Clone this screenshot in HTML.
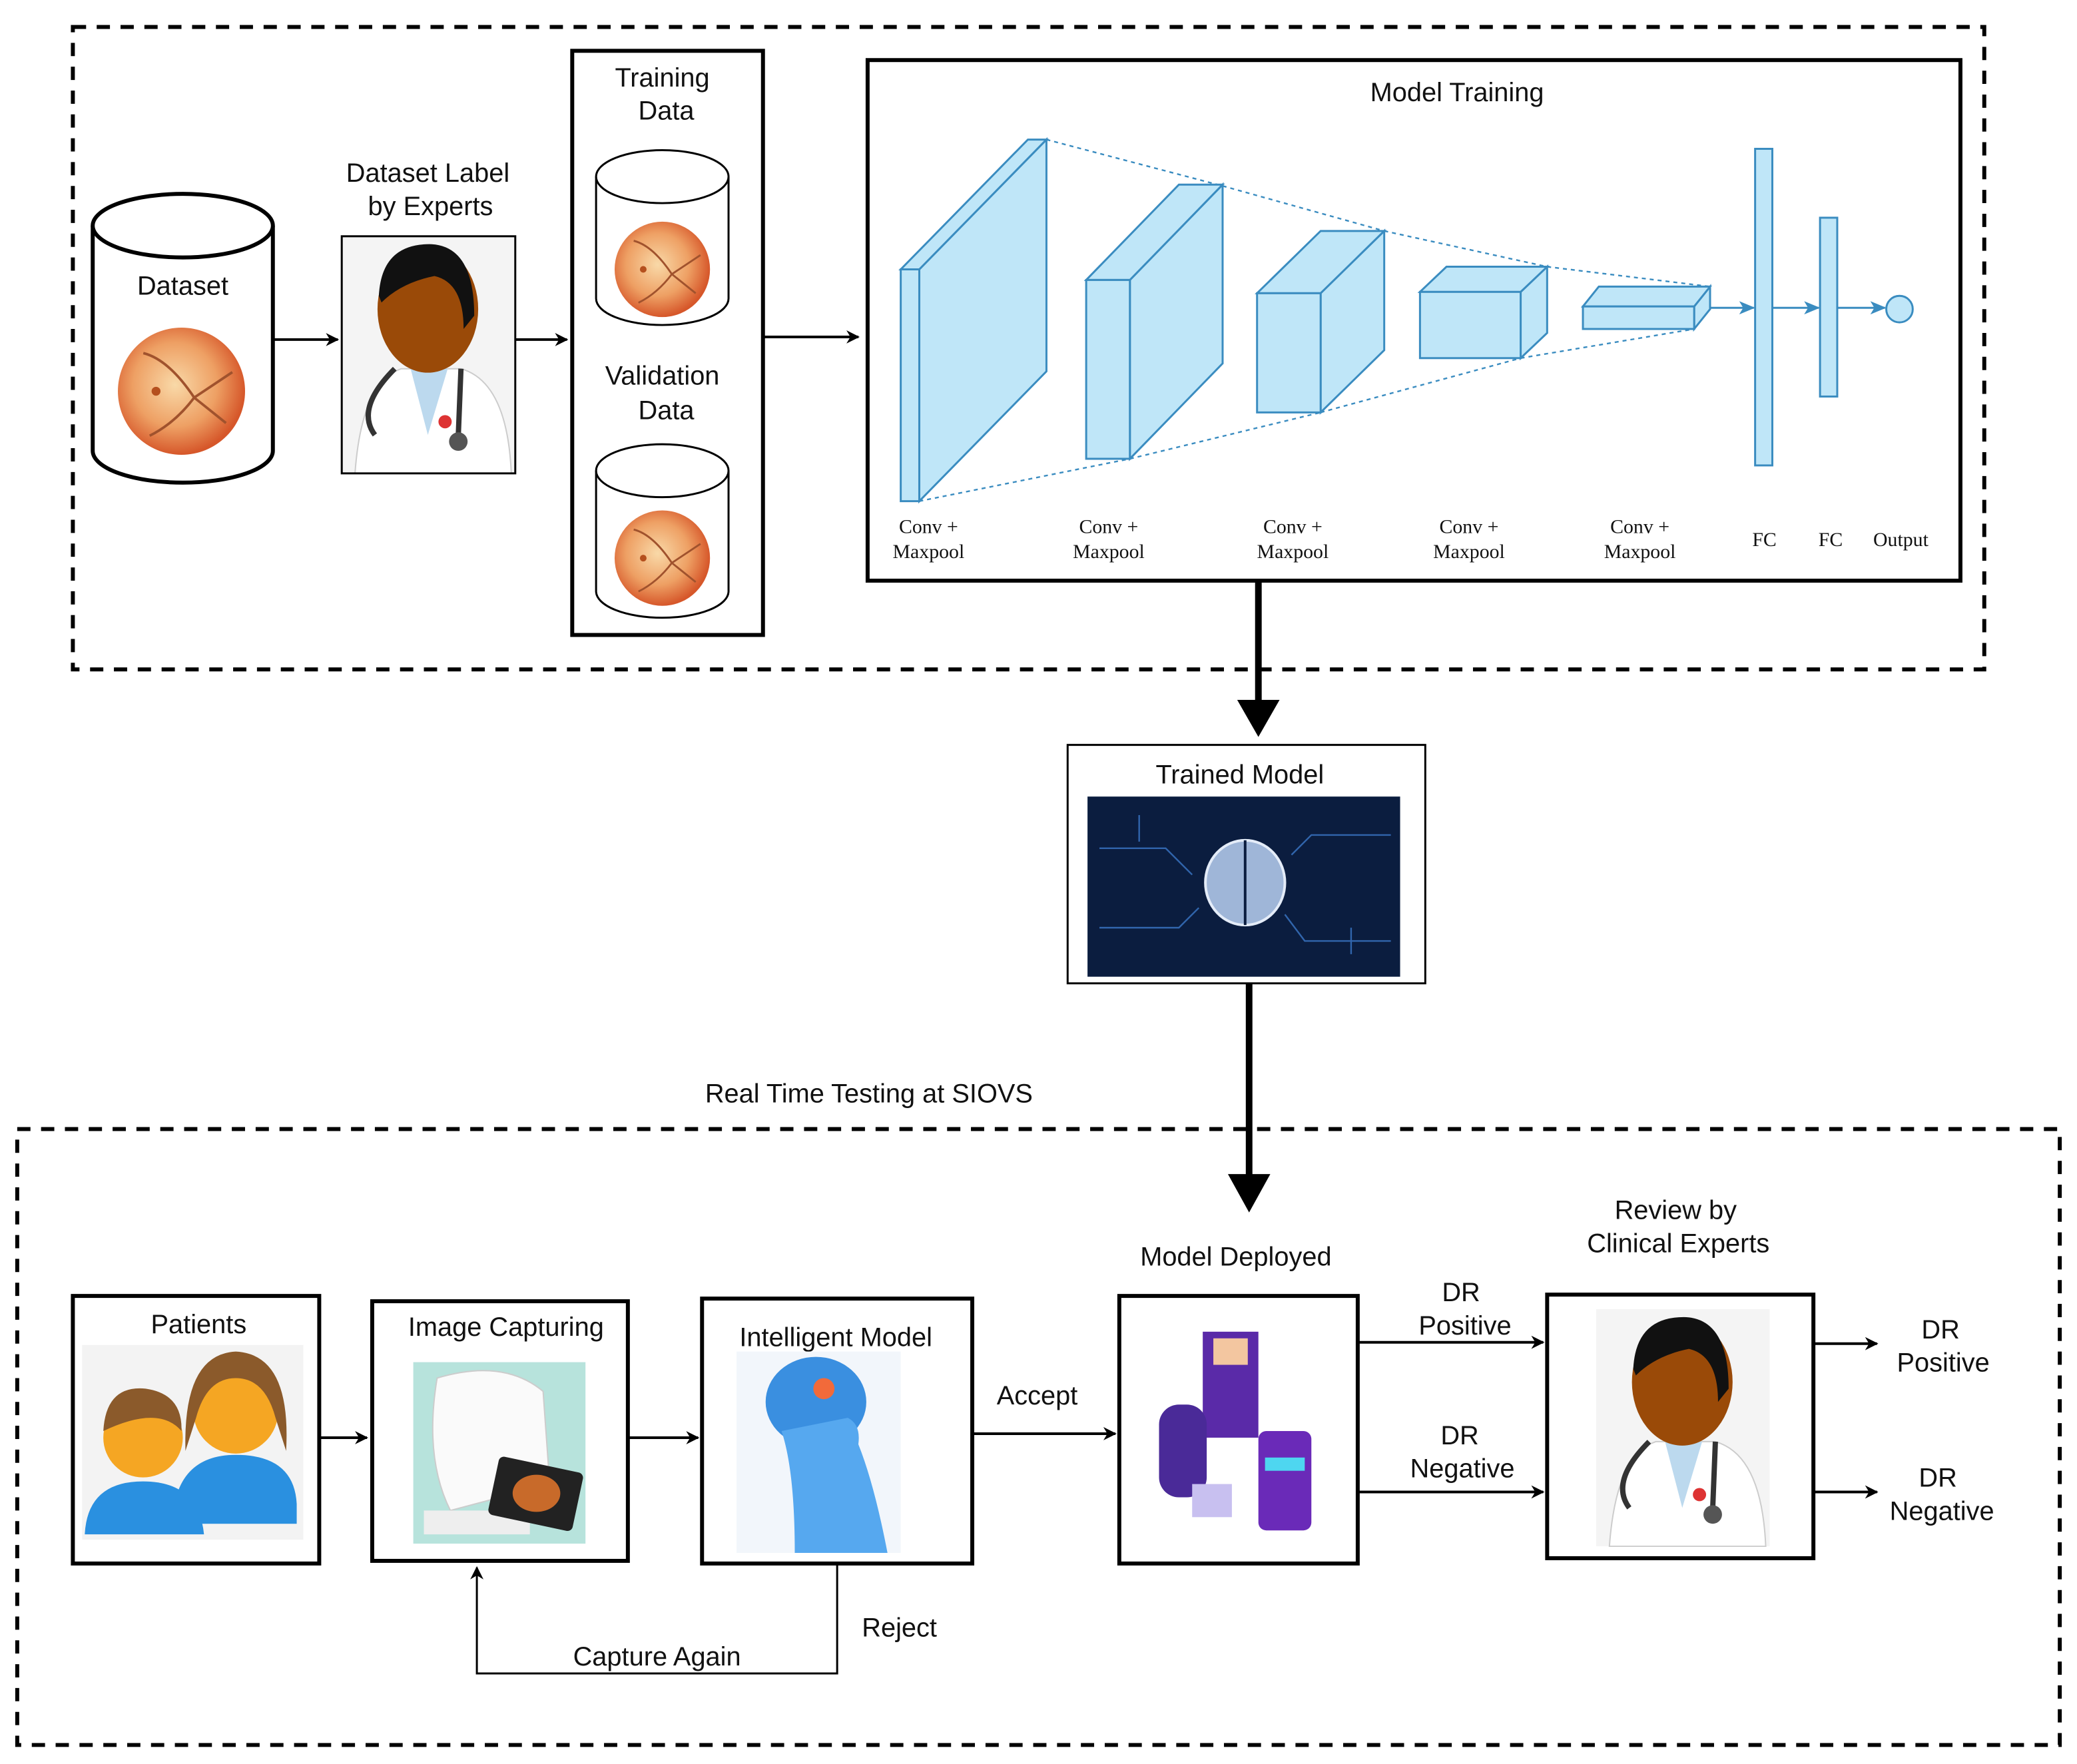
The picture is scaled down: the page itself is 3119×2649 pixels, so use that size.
<!DOCTYPE html>
<html><head><meta charset="utf-8"><style>
html,body{margin:0;padding:0;background:#fff;}
svg{display:block}
text{font-family:"Liberation Sans",sans-serif;font-size:20px;fill:#111;text-anchor:middle}
.s{font-family:"Liberation Serif",serif;font-size:15px}
</style></head><body>
<svg width="3119" height="2649" viewBox="0 0 1568 1331" xmlns="http://www.w3.org/2000/svg">
<defs>
<radialGradient id="ret" cx="0.45" cy="0.45" r="0.55">
<stop offset="0" stop-color="#f9d9a8"/><stop offset="0.6" stop-color="#eea064"/><stop offset="1" stop-color="#d6572a"/></radialGradient>
<marker id="a" markerWidth="10" markerHeight="10" refX="9" refY="5" orient="auto" markerUnits="userSpaceOnUse"><path d="M0,0 L10,5 L0,10 L3,5z" fill="#000"/></marker>
<marker id="ab" markerWidth="12" markerHeight="10" refX="11" refY="5" orient="auto" markerUnits="userSpaceOnUse"><path d="M0,0 L12,5 L0,10 L3,5z" fill="#3a8cc0"/></marker>
<marker id="big" markerWidth="32" markerHeight="32" refX="16" refY="30" orient="auto" markerUnits="userSpaceOnUse"><path d="M0,0 L16,32 L32,0 L16,8z" fill="#000" transform="rotate(-90 16 16)"/></marker>
<g id="retina"><circle r="1" fill="url(#ret)"/><circle cx="-0.4" cy="0" r="0.07" fill="#b5501e"/><path d="M0.2,0.1 Q-0.2,-0.5 -0.6,-0.6 M0.2,0.1 Q-0.1,0.5 -0.5,0.7 M0.2,0.1 L0.8,-0.3 M0.2,0.1 L0.7,0.5" stroke="#a0522d" stroke-width="0.04" fill="none"/></g>
<g id="doc"><rect x="0" y="0" width="131" height="179" fill="#f4f4f4"/>
<path d="M10,179 Q15,110 45,100 L90,100 Q125,110 128,179z" fill="#fff" stroke="#ccc"/>
<path d="M52,100 L65,150 L80,100z" fill="#bcd9ee"/>
<ellipse cx="65" cy="55" rx="38" ry="48" fill="#9a4a08"/>
<path d="M28,45 Q30,5 68,6 Q100,8 100,60 L92,70 Q92,35 70,30 Q45,35 30,50z" fill="#111"/>
<path d="M40,100 Q10,130 25,150 M90,100 L88,150" stroke="#333" stroke-width="4" fill="none"/><circle cx="88" cy="155" r="7" fill="#555"/><circle cx="78" cy="140" r="5" fill="#d33"/></g>
</defs>
<!-- dashed containers -->
<rect x="55" y="20" width="1443" height="485" fill="none" stroke="#000" stroke-width="3" stroke-dasharray="10,8"/>
<rect x="13" y="852" width="1542" height="465" fill="none" stroke="#000" stroke-width="3" stroke-dasharray="10,8"/>
<!-- dataset cylinder -->
<path d="M70,170 L70,340 A68,24 0 0 0 206,340 L206,170" fill="#fff" stroke="#000" stroke-width="3"/>
<ellipse cx="138" cy="170" rx="68" ry="24" fill="#fff" stroke="#000" stroke-width="3"/>
<text x="138" y="222">Dataset</text>
<use href="#retina" transform="translate(137,295) scale(48)"/>
<line x1="206" y1="256" x2="255" y2="256" stroke="#000" stroke-width="2" marker-end="url(#a)"/>
<text x="323" y="137">Dataset Label</text><text x="325" y="162">by Experts</text>
<use href="#doc" transform="translate(258,178)"/>
<rect x="258" y="178" width="131" height="179" fill="none" stroke="#000" stroke-width="1.5"/>
<line x1="389" y1="256" x2="428" y2="256" stroke="#000" stroke-width="2" marker-end="url(#a)"/>
<!-- training box -->
<rect x="432" y="38" width="144" height="441" fill="#fff" stroke="#000" stroke-width="3"/>
<text x="500" y="65">Training</text><text x="503" y="90">Data</text>
<path d="M450,133 L450,225 A50,20 0 0 0 550,225 L550,133" fill="#fff" stroke="#000" stroke-width="1.5"/>
<ellipse cx="500" cy="133" rx="50" ry="20" fill="#fff" stroke="#000" stroke-width="1.5"/>
<use href="#retina" transform="translate(500,203) scale(36)"/>
<text x="500" y="290">Validation</text><text x="503" y="316">Data</text>
<path d="M450,355 L450,446 A50,20 0 0 0 550,446 L550,355" fill="#fff" stroke="#000" stroke-width="1.5"/>
<ellipse cx="500" cy="355" rx="50" ry="20" fill="#fff" stroke="#000" stroke-width="1.5"/>
<use href="#retina" transform="translate(500,421) scale(36)"/>
<line x1="576" y1="254" x2="648" y2="254" stroke="#000" stroke-width="2" marker-end="url(#a)"/>
<!-- model training -->
<rect x="655" y="45" width="825" height="393" fill="#fff" stroke="#000" stroke-width="3"/>
<text x="1100" y="76">Model Training</text>
<g stroke="#3a8cc0" stroke-width="1.2" stroke-dasharray="3,3" fill="none">
<line x1="790" y1="105" x2="923" y2="140"/><line x1="694" y1="378" x2="853" y2="346"/>
<line x1="923" y1="140" x2="1045" y2="174"/><line x1="853" y1="346" x2="997" y2="311"/>
<line x1="1045" y1="174" x2="1168" y2="201"/><line x1="997" y1="311" x2="1148" y2="270"/>
<line x1="1168" y1="201" x2="1291" y2="216"/><line x1="1148" y1="270" x2="1279" y2="248"/>
</g>
<g fill="#bfe6f8" stroke="#3a8cc0" stroke-width="1.5">
<polygon points="694,203 790,105 790,280 694,378"/><polygon points="680,203 776,105 790,105 694,203"/><rect x="680" y="203" width="14" height="175"/>
<polygon points="853,211 923,139 923,274 853,346"/><polygon points="820,211 890,139 923,139 853,211"/><rect x="820" y="211" width="33" height="135"/>
<polygon points="997,221 1045,174 1045,264 997,311"/><polygon points="949,221 997,174 1045,174 997,221"/><rect x="949" y="221" width="48" height="90"/>
<polygon points="1148,220 1168,201 1168,251 1148,270"/><polygon points="1072,220 1092,201 1168,201 1148,220"/><rect x="1072" y="220" width="76" height="50"/>
<polygon points="1279,231 1291,216 1291,233 1279,248"/><polygon points="1195,231 1207,216 1291,216 1279,231"/><rect x="1195" y="231" width="84" height="17"/>
<rect x="1325" y="112" width="13" height="239"/><rect x="1374" y="164" width="13" height="135"/>
<circle cx="1434" cy="233" r="10"/>
</g>
<g stroke="#3a8cc0" stroke-width="1.5">
<line x1="1291" y1="232" x2="1324" y2="232" marker-end="url(#ab)"/><line x1="1338" y1="232" x2="1373" y2="232" marker-end="url(#ab)"/><line x1="1387" y1="232" x2="1423" y2="232" marker-end="url(#ab)"/></g>
<g class="s">
<text class="s" x="701" y="402">Conv +</text><text class="s" x="701" y="421">Maxpool</text>
<text class="s" x="837" y="402">Conv +</text><text class="s" x="837" y="421">Maxpool</text>
<text class="s" x="976" y="402">Conv +</text><text class="s" x="976" y="421">Maxpool</text>
<text class="s" x="1109" y="402">Conv +</text><text class="s" x="1109" y="421">Maxpool</text>
<text class="s" x="1238" y="402">Conv +</text><text class="s" x="1238" y="421">Maxpool</text>
<text class="s" x="1332" y="412">FC</text><text class="s" x="1382" y="412">FC</text><text class="s" x="1435" y="412">Output</text></g>
<!-- trained model -->
<line x1="950" y1="438" x2="950" y2="530" stroke="#000" stroke-width="5"/>
<polygon points="934,528 966,528 950,556" fill="#000"/>
<rect x="806" y="562" width="270" height="180" fill="#fff" stroke="#000" stroke-width="1.5"/>
<text x="936" y="591">Trained Model</text>
<rect x="821" y="601" width="236" height="136" fill="#0b1d3f"/>
<g stroke="#3b78c8" stroke-width="1.2" fill="none" opacity="0.8"><path d="M830,640 H880 L900,660 M830,700 H890 L905,685 M1050,630 H990 L975,645 M1050,710 H985 L970,690 M860,615 V635 M1020,720 V700"/></g>
<ellipse cx="940" cy="666" rx="30" ry="32" fill="#9fb6d8" stroke="#e4ecf8" stroke-width="2"/>
<line x1="940" y1="634" x2="940" y2="698" stroke="#0b1d3f" stroke-width="2"/>
<line x1="943" y1="742" x2="943" y2="888" stroke="#000" stroke-width="5"/>
<polygon points="927,886 959,886 943,915" fill="#000"/>
<text x="656" y="832">Real Time Testing at SIOVS</text>
<!-- patients -->
<rect x="55" y="978" width="186" height="202" fill="#fff" stroke="#000" stroke-width="3"/>
<text x="150" y="1006">Patients</text>
<rect x="62" y="1015" width="167" height="147" fill="#f3f3f3"/>
<circle cx="108" cy="1085" r="30" fill="#f5a623"/><path d="M78,1080 Q80,1045 110,1048 Q138,1052 137,1080 Q120,1060 78,1080z" fill="#8b5a2b"/>
<path d="M64,1158 Q66,1118 108,1118 Q150,1118 154,1158z" fill="#2a90e0"/>
<circle cx="178" cy="1065" r="32" fill="#f5a623"/><path d="M140,1095 Q138,1022 178,1020 Q220,1022 216,1095 L208,1070 Q200,1040 178,1040 Q156,1040 148,1070z" fill="#8b5a2b"/>
<path d="M130,1150 Q132,1098 178,1098 Q222,1098 224,1135 L224,1150z" fill="#2a90e0"/>
<line x1="241" y1="1085" x2="277" y2="1085" stroke="#000" stroke-width="2" marker-end="url(#a)"/>
<!-- image capturing -->
<rect x="281" y="982" width="193" height="196" fill="#fff" stroke="#000" stroke-width="3"/>
<text x="382" y="1008">Image Capturing</text>
<rect x="312" y="1028" width="130" height="137" fill="#b7e3dc"/>
<path d="M330,1040 Q380,1025 410,1050 L415,1120 L340,1140 Q320,1100 330,1040z" fill="#fafafa" stroke="#ccc"/>
<rect x="320" y="1140" width="80" height="18" fill="#eee"/>
<rect x="372" y="1105" width="65" height="45" rx="4" fill="#222" transform="rotate(12 405 1127)"/>
<ellipse cx="405" cy="1127" rx="18" ry="14" fill="#c86a2a"/>
<line x1="474" y1="1085" x2="527" y2="1085" stroke="#000" stroke-width="2" marker-end="url(#a)"/>
<!-- intelligent model -->
<rect x="530" y="980" width="204" height="200" fill="#fff" stroke="#000" stroke-width="3"/>
<text x="631" y="1016">Intelligent Model</text>
<rect x="556" y="1020" width="124" height="152" fill="#f2f6fb"/>
<ellipse cx="616" cy="1058" rx="38" ry="34" fill="#3a8fe0"/>
<path d="M590,1080 Q600,1110 600,1172 L670,1172 Q660,1120 648,1090 Q650,1075 640,1070z" fill="#56a8ef"/>
<circle cx="622" cy="1048" r="8" fill="#f26a3a"/>
<polyline points="632,1180 632,1263 360,1263 360,1183" fill="none" stroke="#000" stroke-width="1.5" marker-end="url(#a)"/>
<text x="679" y="1235">Reject</text><text x="496" y="1257">Capture Again</text>
<line x1="734" y1="1082" x2="842" y2="1082" stroke="#000" stroke-width="2" marker-end="url(#a)"/>
<text x="783" y="1060">Accept</text>
<!-- model deployed -->
<text x="933" y="955">Model Deployed</text>
<rect x="845" y="978" width="180" height="202" fill="#fff" stroke="#000" stroke-width="3"/>
<rect x="908" y="1005" width="42" height="80" fill="#5a2aa8"/><rect x="916" y="1010" width="26" height="20" fill="#f3c6a0"/>
<rect x="875" y="1060" width="36" height="70" rx="15" fill="#4a2a98"/><rect x="950" y="1080" width="40" height="75" rx="6" fill="#6a2ab8"/>
<rect x="955" y="1100" width="30" height="10" fill="#4ed6f0"/><rect x="900" y="1120" width="30" height="25" fill="#c8c0f0"/>
<line x1="1025" y1="1013" x2="1165" y2="1013" stroke="#000" stroke-width="2" marker-end="url(#a)"/>
<line x1="1025" y1="1126" x2="1165" y2="1126" stroke="#000" stroke-width="2" marker-end="url(#a)"/>
<text x="1103" y="982">DR</text><text x="1106" y="1007">Positive</text>
<text x="1102" y="1090">DR</text><text x="1104" y="1115">Negative</text>
<!-- review -->
<text x="1265" y="920">Review by</text><text x="1267" y="945">Clinical Experts</text>
<rect x="1168" y="977" width="201" height="199" fill="#fff" stroke="#000" stroke-width="3"/>
<use href="#doc" transform="translate(1205,988) scale(1.0,1.0)"/>
<line x1="1369" y1="1014" x2="1417" y2="1014" stroke="#000" stroke-width="2" marker-end="url(#a)"/>
<line x1="1369" y1="1126" x2="1417" y2="1126" stroke="#000" stroke-width="2" marker-end="url(#a)"/>
<text x="1465" y="1010">DR</text><text x="1467" y="1035">Positive</text>
<text x="1463" y="1122">DR</text><text x="1466" y="1147">Negative</text>
</svg>
</body></html>
